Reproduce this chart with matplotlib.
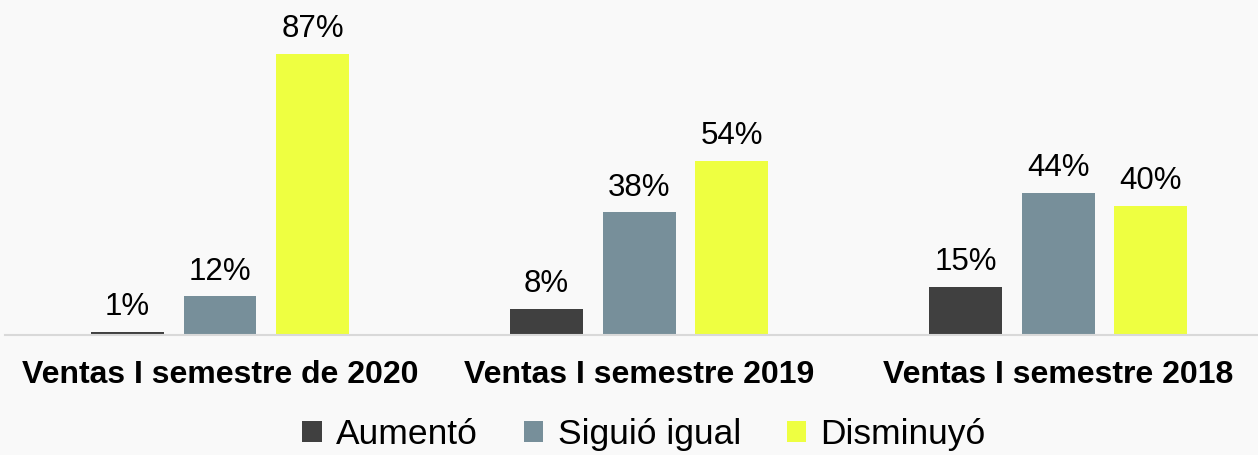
import matplotlib
matplotlib.use("Agg")
import matplotlib.pyplot as plt
from matplotlib.patches import Patch
import numpy as np

categorias = ["Ventas I semestre de 2020", "Ventas I semestre 2019", "Ventas I semestre 2018"]
series = ["Aumentó", "Siguió igual", "Disminuyó"]
aumento = [1, 8, 15]
siguio_igual = [12, 38, 44]
disminuyo = [87, 54, 40]

colores = ["#404040", "#778f9a", "#eeff41"]
fondo = "#f9f9f9"

plt.rcParams["font.family"] = ["Liberation Sans", "DejaVu Sans"]

fig = plt.figure(figsize=(12.58, 4.55), dpi=100, facecolor=fondo)
ax = fig.add_axes([5 / 1258, 1 - 335 / 455, 1 - 5 / 1258, 335 / 455])
ax.set_facecolor(fondo)

x = np.arange(len(categorias))
ancho = 0.174
paso = 0.221
valores = [aumento, siguio_igual, disminuyo]
for i, (vals, col) in enumerate(zip(valores, colores)):
    barras = ax.bar(x + (i - 1) * paso, vals, width=ancho, color=col, label=series[i], zorder=2)
    ax.bar_label(barras, labels=[f"{v}%" for v in vals], padding=7, fontsize=22.5, color="#000000")

ax.set_xlim(-0.513, 2.477)
ax.set_ylim(0, 103.7)
ax.set_yticks([])
ax.set_xticks(x)
ax.set_xticklabels(categorias, fontsize=23, fontweight="bold")
ax.tick_params(axis="x", length=0, pad=18)
for lado in ["top", "right", "left"]:
    ax.spines[lado].set_visible(False)
ax.spines["bottom"].set_color("#d9d9d9")
ax.spines["bottom"].set_linewidth(1.5)

handles = [Patch(facecolor=c) for c in colores]
fig.legend(handles, series, loc="center", bbox_to_anchor=(0.512, 0.045), ncol=3, frameon=False,
           fontsize=25.5, handlelength=0.55, handleheight=0.55, handletextpad=0.4,
           columnspacing=1.3, borderaxespad=0, borderpad=0)

fig.savefig("out.png", dpi=100, facecolor=fondo)
